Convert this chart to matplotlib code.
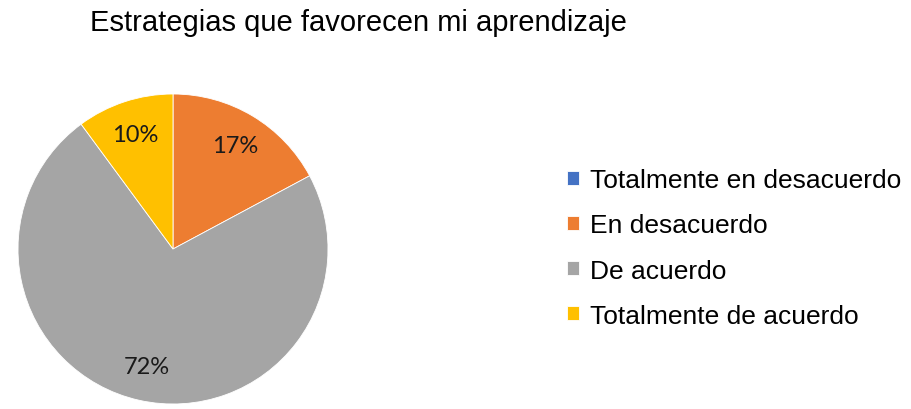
import matplotlib.pyplot as plt

categories = ["Totalmente en desacuerdo", "En desacuerdo", "De acuerdo", "Totalmente de acuerdo"]
values = [0, 17, 72, 10]
colors = ["#4472C4", "#ED7D31", "#A5A5A5", "#FFC000"]
title = "Estrategias que favorecen mi aprendizaje"

total = sum(values)

fig = plt.figure(figsize=(9.11, 4.10), dpi=100)
fig.patch.set_facecolor("white")

# pie centred near (173, 250) px, radius ~155 px
W, H = 911, 410
cx, cy, r = 173, 250, 155
ax = fig.add_axes([(cx - r) / W, (H - cy - r) / H, 2 * r / W, 2 * r / H])


def fmt(p):
    v = p * total / 100
    return "" if v < 0.5 else f"{v:.0f}%"


wedges, texts, autotexts = ax.pie(
    values, colors=colors, startangle=90, counterclock=False,
    autopct=fmt, pctdistance=0.78, radius=1,
    wedgeprops=dict(linewidth=0.6, edgecolor="white"),
    textprops=dict(fontsize=17, family=["Lato", "DejaVu Sans"], color="#1a1a1a"),
)
ax.set_xlim(-1, 1)
ax.set_ylim(-1, 1)
ax.set_aspect("equal")
ax.axis("off")

fig.text(90 / W, 1 - 31 / H, title, fontsize=21, family=["Liberation Sans", "DejaVu Sans"],
         ha="left", va="baseline", color="black")

leg = fig.legend(wedges, categories, loc="center left", bbox_to_anchor=(543 / W, 1 - 249 / H),
                 frameon=False, handlelength=0.45, handleheight=0.45,
                 handletextpad=0.42, labelspacing=0.8,
                 prop=dict(family=["Liberation Sans", "DejaVu Sans"], size=19))

fig.savefig("out.png", dpi=100)
